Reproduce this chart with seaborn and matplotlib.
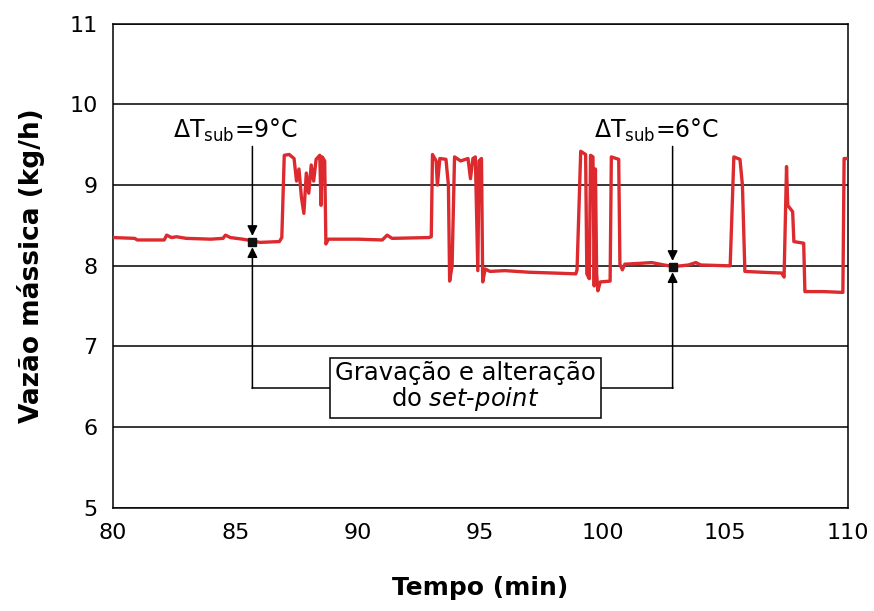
import numpy as np
import pandas as pd
import matplotlib
matplotlib.use("Agg")
import matplotlib.pyplot as plt
import seaborn as sns

# mass flow trace (time in min, flow in kg/h)
tempo = [80.0, 80.9, 81.0, 82.1, 82.2, 82.4, 82.6, 83.0, 84.0, 84.5, 84.6, 84.8,
         85.3, 85.7, 86.0, 86.8, 86.9, 87.0, 87.2, 87.4, 87.5, 87.6, 87.7, 87.8,
         87.9, 88.0, 88.1, 88.2, 88.3, 88.45, 88.5, 88.55, 88.65, 88.7, 88.8,
         90.0, 91.0, 91.2, 91.4, 92.9, 93.0, 93.05, 93.2, 93.25, 93.35, 93.6,
         93.7, 93.75, 93.85, 93.95, 94.2, 94.5, 94.6, 94.7, 94.8, 94.9, 94.95,
         95.05, 95.1, 95.2, 95.4, 96.0, 97.0, 98.0, 98.9, 98.95, 99.1, 99.3,
         99.35, 99.45, 99.5, 99.6, 99.65, 99.7, 99.75, 99.8, 99.9, 100.3,
         100.35, 100.65, 100.7, 100.8, 100.9, 101.5, 102.0, 102.5, 102.9,
         103.5, 103.8, 104.0, 105.1, 105.2, 105.35, 105.6, 105.7, 105.8, 106.5,
         107.3, 107.4, 107.5, 107.55, 107.75, 107.8, 108.2, 108.25, 109.0,
         109.8, 109.85, 110.0]
vazao = [8.35, 8.34, 8.32, 8.32, 8.38, 8.35, 8.36, 8.34, 8.33, 8.34, 8.38, 8.35,
         8.33, 8.31, 8.29, 8.30, 8.35, 9.37, 9.38, 9.33, 9.05, 9.20, 8.85, 8.65,
         9.15, 8.90, 9.25, 9.05, 9.32, 9.37, 8.75, 9.35, 9.30, 8.27, 8.33,
         8.33, 8.32, 8.38, 8.34, 8.35, 8.36, 9.38, 9.30, 9.00, 9.33, 9.32,
         9.00, 7.81, 8.00, 9.35, 9.30, 9.33, 9.08, 9.33, 9.35, 7.94, 9.30,
         9.33, 7.80, 7.96, 7.93, 7.94, 7.92, 7.91, 7.90, 7.95, 9.42, 9.38,
         7.90, 7.84, 9.37, 9.35, 7.75, 9.20, 7.90, 7.69, 7.80, 7.81,
         9.35, 9.32, 8.02, 7.95, 8.02, 8.03, 8.04, 8.01, 7.99,
         8.01, 8.04, 8.01, 8.00, 8.00, 9.35, 9.32, 9.00, 7.93, 7.92,
         7.91, 7.86, 9.23, 8.75, 8.67, 8.30, 8.28, 7.68, 7.68,
         7.67, 9.33, 9.33]

# set-point change moments
marca_t = [85.7, 102.85]
marca_v = [8.30, 7.99]
rotulos = ["ΔT$_{\\mathrm{sub}}$=9°C", "ΔT$_{\\mathrm{sub}}$=6°C"]
rotulo_x = [85.0, 102.2]

x_ticks = [80, 85, 90, 95, 100, 105, 110]
y_ticks = [5, 6, 7, 8, 9, 10, 11]

df = pd.DataFrame({"Tempo": tempo, "Vazao": vazao})

sns.set_style("white")
plt.rcParams['font.family'] = ['DejaVu Sans']
plt.rcParams['text.color'] = 'black'
plt.rcParams['axes.labelcolor'] = 'black'

fig = plt.figure(figsize=(8.74, 6.11), dpi=100)
ax = fig.add_axes([0.129, 0.169, 0.841, 0.792])

sns.lineplot(data=df, x="Tempo", y="Vazao", ax=ax, sort=False, estimator=None,
             color="#dc2a2f", linewidth=2.4, zorder=3)

ax.set_xlim(80, 110)
ax.set_ylim(5, 11)
ax.set_xticks(x_ticks)
ax.set_yticks(y_ticks)
ax.yaxis.grid(True, color="black", linewidth=1.1)
ax.set_axisbelow(True)
for s in ax.spines.values():
    s.set_color("black")
    s.set_linewidth(1.1)
ax.tick_params(direction="inout", length=10, width=1.1, labelsize=16, colors="black", pad=6)

ax.set_xlabel("Tempo (min)", fontsize=18, fontweight="bold", labelpad=24)
ax.set_ylabel("Vazão mássica (kg/h)", fontsize=19, fontweight="bold", labelpad=17)

# annotation: arrows towards each marker, joined to the text box
y_base = 6.48
arr = dict(arrowstyle="-|>", color="black", lw=1.1, mutation_scale=15, shrinkA=0, shrinkB=0)
for t, v, lab, lx in zip(marca_t, marca_v, rotulos, rotulo_x):
    ax.annotate("", xy=(t, v + 0.07), xytext=(t, 9.48), arrowprops=arr, zorder=4)
    ax.annotate("", xy=(t, v - 0.07), xytext=(t, y_base), arrowprops=arr, zorder=4)
    ax.text(lx, 9.68, lab, fontsize=17, ha="center", va="center")
ax.plot(marca_t, marca_v, "s", color="#111111", markersize=6, zorder=5)

ax.plot(marca_t, [y_base, y_base], color="black", lw=1.1, zorder=4)

ax.text(94.4, 6.5, "Gravação e alteração\ndo $\\it{set}$-$\\it{point}$", fontsize=17.5,
        ha="center", va="center", linespacing=1.0, zorder=6,
        bbox=dict(boxstyle="square,pad=0.2", fc="white", ec="black", lw=1.1))

fig.savefig("out.png", dpi=100)
